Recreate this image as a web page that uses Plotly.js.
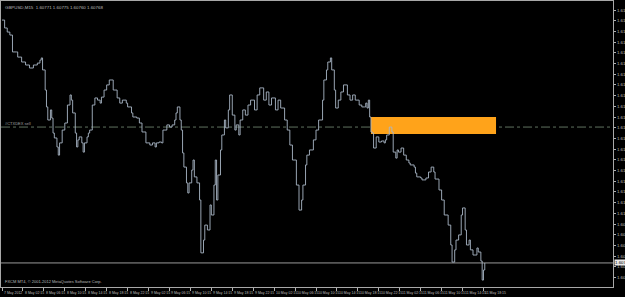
<!DOCTYPE html>
<html>
<head>
<meta charset="utf-8">
<script src="https://cdn.plot.ly/plotly-3.0.1.min.js"></script>
<style>html,body{margin:0;padding:0;background:#000;}#chart{width:625px;height:297px;}</style>
</head>
<body>
<div id="chart"></div>
<script>
// ---- data ----
const bars = [0,2,4,6,8,11,12,15,18,21,24,27,29,30,31,33,34,35,37,38,39,40,42,43,44,46,48,50,52,53,54,56,57,58,59,61,62,63,65,66,67,69,71,73,75,76,78,80,82,85,88,90,92,95,96,99,100,103,105,107,110,113,115,117,118,120,122,123,126,128,130,132,133,134,136,137,138,139,141,142,143,145,146,147,149,151,152,154,155,157,159,160,162,163,164,165,167,168,170,171,173,174,176,178,179,181,182,184,186,188,190,193,195,197,200,202,204,206,209,211,213,216,218,220,222,225,227,229,230,232,233,235,238,240,242,245,246,248,249,251,252,254,255,257,259,261,264,266,268,270,273,275,277,278,279,280,281,282,283,284,286,288,290,292,293,294,296,297,298,299,301,302,303,305,307,309,311,312,315,316,317,320,321,324,326,328,330,331,334,336,338,341,343,344,346,347,349,351,352,354,355,357,358,360,363,364,366,367,368,369];
const close = [1.61903,1.61866,1.61847,1.61833,1.61754,1.61754,1.61730,1.61707,1.61693,1.61679,1.61693,1.61702,1.61716,1.61726,1.61670,1.61576,1.61497,1.61436,1.61483,1.61445,1.61375,1.61352,1.61310,1.61272,1.61329,1.61389,1.61422,1.61506,1.61553,1.61529,1.61469,1.61375,1.61310,1.61343,1.61357,1.61329,1.61286,1.61329,1.61357,1.61375,1.61389,1.61506,1.61539,1.61529,1.61515,1.61543,1.61576,1.61600,1.61623,1.61576,1.61539,1.61515,1.61529,1.61515,1.61497,1.61469,1.61450,1.61445,1.61422,1.61380,1.61329,1.61319,1.61329,1.61310,1.61329,1.61333,1.61329,1.61389,1.61413,1.61403,1.61413,1.61436,1.61469,1.61497,1.61436,1.61389,1.61282,1.61216,1.61142,1.61095,1.61142,1.61202,1.61249,1.61170,1.61142,1.61062,1.60815,1.60875,1.60945,1.60922,1.61039,1.60992,1.61132,1.61249,1.61062,1.61179,1.61296,1.61366,1.61436,1.61399,1.61483,1.61553,1.61459,1.61389,1.61413,1.61366,1.61436,1.61483,1.61459,1.61506,1.61529,1.61483,1.61553,1.61586,1.61529,1.61567,1.61506,1.61539,1.61483,1.61529,1.61492,1.61436,1.61389,1.61319,1.61249,1.61132,1.61015,1.61062,1.61132,1.61226,1.61272,1.61296,1.61343,1.61389,1.61436,1.61529,1.61623,1.61670,1.61707,1.61726,1.61670,1.61576,1.61492,1.61529,1.61567,1.61600,1.61553,1.61529,1.61553,1.61529,1.61506,1.61497,1.61497,1.61515,1.61492,1.61529,1.61450,1.61380,1.61375,1.61305,1.61357,1.61333,1.61338,1.61329,1.61343,1.61366,1.61403,1.61403,1.61380,1.61286,1.61258,1.61296,1.61286,1.61305,1.61272,1.61249,1.61235,1.61226,1.61216,1.61188,1.61170,1.61165,1.61156,1.61165,1.61193,1.61216,1.61193,1.61160,1.61109,1.61062,1.60992,1.60945,1.60852,1.60772,1.60829,1.60875,1.60899,1.60992,1.61025,1.60922,1.60852,1.60875,1.60829,1.60805,1.60838,1.60819,1.60777,1.60688,1.60735,1.60768];

const timeTickBars = [0,16,32,48,64,80,96,112,128,144,160,176,192,208,224,240,256,272,288,304,320,336,352,368];
const timeTickLabels = ["7 May 2012","8 May 02:15","8 May 06:15","8 May 10:15","8 May 14:15","8 May 18:15","8 May 22:15","9 May 02:15","9 May 06:15","9 May 10:15","9 May 14:15","9 May 18:15","9 May 22:15","10 May 02:15","10 May 06:15","10 May 10:15","10 May 14:15","10 May 18:15","10 May 22:15","11 May 02:15","11 May 06:15","11 May 10:15","11 May 14:15","11 May 18:15"];

const priceTicks = [1.6195,1.6190,1.6185,1.6180,1.6175,1.6170,1.6165,1.6160,1.6155,1.6150,1.6145,1.6140,1.6135,1.6130,1.6125,1.6120,1.6115,1.6110,1.6105,1.6100,1.6095,1.6090,1.6085,1.6080,1.6075,1.6070,1.6065];
const priceTickLabels = priceTicks.map(v => v.toFixed(5));

const bidPrice = 1.60768;
const sellLevel = 1.61403;
const sellLabel = "#CTXDEX sell";
const zoneBars = [282, 377.6];
const zonePrices = [1.61371, 1.61450];
const titleText = "GBPUSD,M15  1.60771 1.60775 1.60760 1.60768";
const copyrightText = "FXCM MT4, © 2001-2012 MetaQuotes Software Corp.";

// ---- chart ----
const txt = '#bdbdbd';
const fam = 'Liberation Sans Narrow, Liberation Sans, Arial, sans-serif';

const trace = {
  x: bars, y: close, type: 'scatter', mode: 'lines',
  line: {color: '#a9b7c6', width: 0.9, shape: 'hv'}, hoverinfo: 'skip'
};

const annotations = [];
timeTickBars.forEach((b, i) => {
  annotations.push({x: b, y: 0, xref: 'x', yref: 'paper', text: timeTickLabels[i],
    showarrow: false, xanchor: 'left', yanchor: 'top', xshift: 0, yshift: -2,
    font: {size: 3.5, color: txt, family: fam}});
});
annotations.push({x: 0, y: 1, xref: 'paper', yref: 'paper', text: titleText, showarrow: false,
  xanchor: 'left', yanchor: 'top', xshift: 2, yshift: -2, font: {size: 4.4, color: txt, family: fam}});
annotations.push({x: 0, y: 0, xref: 'paper', yref: 'paper', text: copyrightText, showarrow: false,
  xanchor: 'left', yanchor: 'bottom', xshift: 2, yshift: 1, font: {size: 4, color: txt, family: fam}});
annotations.push({x: 0, y: sellLevel, xref: 'paper', yref: 'y', text: sellLabel, showarrow: false,
  xanchor: 'left', yanchor: 'bottom', xshift: 2, yshift: -1, font: {size: 4, color: '#a0a0a0', family: fam}});
annotations.push({x: 1, y: bidPrice, xref: 'paper', yref: 'y', text: bidPrice.toFixed(5), showarrow: false,
  xanchor: 'left', yanchor: 'middle', xshift: 1, bgcolor: '#e8e8e8', borderpad: 0,
  font: {size: 4.4, color: '#000', family: fam}});

const shapes = [
  {type: 'rect', xref: 'x', yref: 'y', x0: zoneBars[0], x1: zoneBars[1], y0: zonePrices[0], y1: zonePrices[1],
   fillcolor: '#ffa31a', line: {width: 0}, layer: 'below'},
  {type: 'line', xref: 'paper', yref: 'y', x0: 0, x1: 1, y0: sellLevel, y1: sellLevel,
   line: {color: '#5f7260', width: 1, dash: 'dashdot'}, layer: 'below'},
  {type: 'line', xref: 'paper', yref: 'y', x0: 0, x1: 1, y0: bidPrice, y1: bidPrice,
   line: {color: '#9a9a9a', width: 1}, layer: 'below'}
];

const layout = {
  width: 625, height: 297,
  paper_bgcolor: '#000', plot_bgcolor: '#000',
  margin: {l: 1, r: 12, t: 1, b: 10, pad: 0},
  showlegend: false,
  xaxis: {range: [-0.764, 467], showgrid: false, zeroline: false,
    tickmode: 'array', tickvals: timeTickBars, ticktext: timeTickLabels, showticklabels: false,
    ticks: 'outside', ticklen: 3, tickcolor: '#b0b0b0', tickwidth: 1,
    showline: true, mirror: true, linecolor: '#a8a8a8', linewidth: 1},
  yaxis: {range: [1.606556, 1.619921], side: 'right', showgrid: false, zeroline: false,
    tickmode: 'array', tickvals: priceTicks, ticktext: priceTickLabels,
    ticks: 'outside', ticklen: 2, tickcolor: '#b0b0b0', tickwidth: 1,
    tickfont: {size: 4.4, color: txt, family: fam},
    showline: true, mirror: true, linecolor: '#a8a8a8', linewidth: 1},
  shapes: shapes,
  annotations: annotations
};

Plotly.newPlot('chart', [trace], layout, {displayModeBar: false, staticPlot: true});
</script>
</body>
</html>
